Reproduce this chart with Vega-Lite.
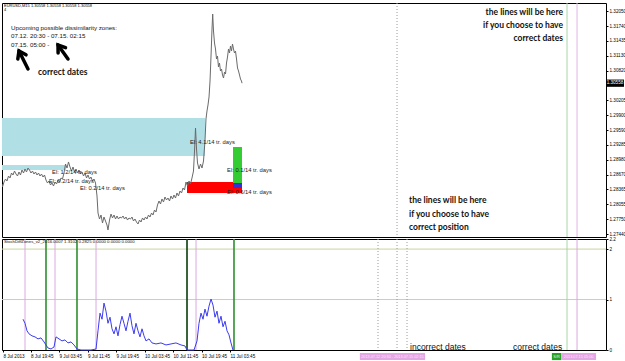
{
  "$schema": "https://vega.github.io/schema/vega-lite/v6.json",
  "background": "white",
  "padding": {"left": 1, "top": 2, "right": 0, "bottom": 0},
  "bounds": "flush",
  "spacing": 2,
  "config": {
    "view": {"stroke": "#000", "strokeWidth": 1},
    "font": "Liberation Sans",
    "axis": {"labelFont": "Liberation Sans", "labelFontSize": 4.6, "labelColor": "#000", "tickColor": "#000", "tickSize": 2, "grid": false, "domain": false, "labelOverlap": false, "labelFlush": false}
  },
  "datasets": {
    "price": [
      {"t":11.75,"p":1.28474},{"t":11.89,"p":1.28412},{"t":12.31,"p":1.28515},{"t":12.73,"p":1.28577},{"t":13.15,"p":1.28536},{"t":13.58,"p":1.28639},{"t":14.00,"p":1.28598},{"t":14.42,"p":1.28701},{"t":14.84,"p":1.28660},{"t":15.26,"p":1.28742},
      {"t":15.68,"p":1.28680},{"t":16.10,"p":1.28639},{"t":16.52,"p":1.28722},{"t":16.94,"p":1.28660},{"t":17.36,"p":1.28763},{"t":17.79,"p":1.28701},{"t":18.21,"p":1.28784},{"t":18.63,"p":1.28722},{"t":19.05,"p":1.28804},{"t":19.47,"p":1.28763},
      {"t":19.89,"p":1.28701},{"t":20.31,"p":1.28742},{"t":20.73,"p":1.28680},{"t":21.15,"p":1.28722},{"t":21.58,"p":1.28660},{"t":22.00,"p":1.28701},{"t":22.42,"p":1.28639},{"t":22.84,"p":1.28680},{"t":23.26,"p":1.28618},{"t":23.68,"p":1.28660},
      {"t":24.10,"p":1.28556},{"t":24.52,"p":1.28494},{"t":24.94,"p":1.28536},{"t":25.36,"p":1.28453},{"t":25.79,"p":1.28494},{"t":26.21,"p":1.28432},{"t":26.63,"p":1.28515},{"t":27.05,"p":1.28474},{"t":27.47,"p":1.28556},{"t":27.89,"p":1.28515},
      {"t":28.31,"p":1.28598},{"t":28.73,"p":1.28577},{"t":29.15,"p":1.28701},{"t":29.58,"p":1.28887},{"t":30.00,"p":1.28804},{"t":30.42,"p":1.28929},{"t":30.84,"p":1.28825},{"t":31.26,"p":1.28742},{"t":31.68,"p":1.28825},{"t":32.10,"p":1.28722},
      {"t":32.52,"p":1.28784},{"t":32.94,"p":1.28701},{"t":33.36,"p":1.28763},{"t":33.79,"p":1.28680},{"t":34.21,"p":1.28722},{"t":34.63,"p":1.28639},{"t":35.05,"p":1.28701},{"t":35.47,"p":1.28598},{"t":35.89,"p":1.28660},{"t":36.31,"p":1.28577},
      {"t":36.73,"p":1.28618},{"t":37.15,"p":1.28536},{"t":37.58,"p":1.28577},{"t":38.00,"p":1.28494},{"t":38.42,"p":1.28226},{"t":38.70,"p":1.27874},{"t":39.12,"p":1.27750},{"t":39.54,"p":1.27833},{"t":39.96,"p":1.27667},{"t":40.38,"p":1.27791},
      {"t":40.80,"p":1.27709},{"t":41.22,"p":1.27626},{"t":41.50,"p":1.27523},{"t":41.93,"p":1.27729},{"t":42.35,"p":1.27853},{"t":42.77,"p":1.27771},{"t":43.19,"p":1.27833},{"t":43.61,"p":1.27750},{"t":44.03,"p":1.27812},{"t":44.45,"p":1.27750},
      {"t":44.87,"p":1.27791},{"t":45.29,"p":1.27771},{"t":45.72,"p":1.27812},{"t":46.14,"p":1.27750},{"t":46.56,"p":1.27791},{"t":46.98,"p":1.27729},{"t":47.40,"p":1.27771},{"t":47.82,"p":1.27750},{"t":48.24,"p":1.27791},{"t":48.66,"p":1.27709},
      {"t":49.08,"p":1.27750},{"t":49.50,"p":1.27688},{"t":49.93,"p":1.27647},{"t":50.35,"p":1.27729},{"t":50.77,"p":1.27688},{"t":51.19,"p":1.27771},{"t":51.61,"p":1.27729},{"t":52.03,"p":1.27791},{"t":52.45,"p":1.27750},{"t":52.87,"p":1.27833},
      {"t":53.29,"p":1.27791},{"t":53.72,"p":1.27874},{"t":54.14,"p":1.27833},{"t":54.56,"p":1.27936},{"t":54.98,"p":1.27895},{"t":55.40,"p":1.28040},{"t":55.82,"p":1.28122},{"t":56.24,"p":1.28060},{"t":56.66,"p":1.28164},{"t":57.08,"p":1.28102},
      {"t":57.50,"p":1.28205},{"t":57.93,"p":1.28143},{"t":58.35,"p":1.28184},{"t":58.77,"p":1.28122},{"t":59.19,"p":1.28226},{"t":59.61,"p":1.28164},{"t":60.03,"p":1.28246},{"t":60.45,"p":1.28184},{"t":60.87,"p":1.28288},{"t":61.29,"p":1.28226},
      {"t":61.72,"p":1.28329},{"t":62.14,"p":1.28288},{"t":62.56,"p":1.28391},{"t":62.98,"p":1.28350},{"t":63.40,"p":1.28515},{"t":63.82,"p":1.28432},{"t":64.24,"p":1.28536},{"t":64.66,"p":1.28474},{"t":65.08,"p":1.28598},{"t":65.50,"p":1.28742},
      {"t":65.79,"p":1.29156},{"t":66.07,"p":1.29631},{"t":66.35,"p":1.29197},{"t":66.63,"p":1.28908},{"t":67.05,"p":1.28784},{"t":67.47,"p":1.28887},{"t":67.89,"p":1.28804},{"t":68.31,"p":1.28949},{"t":68.73,"p":1.29363},{"t":69.01,"p":1.29818},
      {"t":69.29,"p":1.29983},{"t":69.57,"p":1.30107},{"t":69.86,"p":1.30272},{"t":70.14,"p":1.30603},{"t":70.42,"p":1.31120},{"t":70.70,"p":1.31678},{"t":70.89,"p":1.31988},{"t":71.12,"p":1.31637},{"t":71.40,"p":1.31389},{"t":71.68,"p":1.31265},
      {"t":71.96,"p":1.31058},{"t":72.24,"p":1.31120},{"t":72.52,"p":1.30893},{"t":72.80,"p":1.30975},{"t":73.08,"p":1.30810},{"t":73.37,"p":1.30851},{"t":73.65,"p":1.30727},{"t":73.93,"p":1.30665},{"t":74.21,"p":1.30789},{"t":74.49,"p":1.30748},
      {"t":74.77,"p":1.30975},{"t":75.05,"p":1.31099},{"t":75.33,"p":1.31265},{"t":75.61,"p":1.31182},{"t":75.89,"p":1.31327},{"t":76.17,"p":1.31223},{"t":76.45,"p":1.31368},{"t":76.73,"p":1.31265},{"t":77.01,"p":1.31182},{"t":77.29,"p":1.31223},
      {"t":77.58,"p":1.31058},{"t":77.86,"p":1.30872},{"t":78.14,"p":1.30810},{"t":78.42,"p":1.30727},{"t":78.70,"p":1.30644},{"t":78.98,"p":1.30603},{"t":79.12,"p":1.30558}
    ],
    "rects": [
      {"k":"zone","t":11.75,"t2":68.73,"p":1.29053,"p2":1.29838},
      {"k":"zone","t":11.75,"t2":29.72,"p":1.28763,"p2":1.28867},
      {"k":"red","t":63.68,"t2":79.12,"p":1.28288,"p2":1.28515},
      {"k":"green","t":76.59,"t2":79.12,"p":1.28494,"p2":1.29239},
      {"k":"blue","t":76.59,"t2":79.12,"p":1.28391,"p2":1.28494}
    ],
    "mainLines": [
      {"k":"grey","t":122.63},
      {"k":"lgreen","t":170.35},
      {"k":"violet","t":173.16}
    ],
    "arrows": [
      {"seg":"a1","o":1,"t":19.05,"p":1.30851},{"seg":"a1","o":2,"t":16.52,"p":1.31223},
      {"seg":"a1h","o":1,"t":16.19,"p":1.31060},{"seg":"a1h","o":2,"t":16.52,"p":1.31223},{"seg":"a1h","o":3,"t":18.49,"p":1.31145},
      {"seg":"a2","o":1,"t":30.28,"p":1.31058},{"seg":"a2","o":2,"t":27.47,"p":1.31347},
      {"seg":"a2h","o":1,"t":27.50,"p":1.31182},{"seg":"a2h","o":2,"t":27.47,"p":1.31347},{"seg":"a2h","o":3,"t":29.58,"p":1.31292}
    ],
    "notes": [
      {"k":"hdr","t":12.31,"p":1.32154,"label":"EURUSD,M15  1.30558 1.30558 1.30558 1.30558"},
      {"k":"hdr","t":12.31,"p":1.32071,"label":"4"},
      {"k":"dz","t":14.28,"p":1.31699,"label":"Upcoming possible dissimilarity zones:"},
      {"k":"dz","t":14.28,"p":1.31533,"label":"07.12. 20:30 - 07.15. 02:15"},
      {"k":"dz","t":14.28,"p":1.31347,"label":"07.15. 05:00 -"},
      {"k":"el","t":64.52,"p":1.29342,"label":"El: 4.1/14 tr. days"},
      {"k":"el","t":25.79,"p":1.28722,"label":"El: 1.2/14 tr. days"},
      {"k":"el","t":24.94,"p":1.28536,"label":"El: 0.2/14 tr. days"},
      {"k":"el","t":33.65,"p":1.28391,"label":"El: 0.2/14 tr. days"},
      {"k":"el","t":74.91,"p":1.28763,"label":"El: 0.1/14 tr. days"},
      {"k":"el","t":74.91,"p":1.28308,"label":"El: 0.6/14 tr. days"},
      {"k":"big","t":21.86,"p":1.30789,"label":"correct dates"},
      {"k":"big","t":126.0,"p":1.28143,"label":"the lines will be here"},
      {"k":"big","t":126.0,"p":1.27853,"label":"if you choose to have"},
      {"k":"big","t":126.0,"p":1.27585,"label":"correct position"},
      {"k":"bigR","t":169.22,"p":1.32030,"label":"the lines will be here"},
      {"k":"bigR","t":169.22,"p":1.31761,"label":"if you choose to have"},
      {"k":"bigR","t":169.22,"p":1.31492,"label":"correct dates"}
    ],
    "lastPrice": [
      {"t":181.29,"t2":186.34,"tm":183.8,"p":1.30558,"lo":1.30483,"hi":1.30633,"label":"1.30558"}
    ],
    "ind": [
      {"t":17.65,"v":0.61},{"t":18.21,"v":0.53},{"t":18.77,"v":0.38},{"t":19.33,"v":0.32},{"t":20.17,"v":0.28},{"t":21.01,"v":0.26},{"t":21.86,"v":0.22},{"t":22.70,"v":0.24},{"t":23.54,"v":0.16},{"t":24.10,"v":0.10},
      {"t":24.66,"v":0.04},{"t":25.51,"v":0.02},{"t":26.35,"v":0.06},{"t":26.91,"v":0.26},{"t":27.75,"v":0.22},{"t":28.59,"v":0.18},{"t":29.43,"v":0.20},{"t":30.28,"v":0.14},{"t":31.12,"v":0.16},{"t":31.96,"v":0.10},
      {"t":32.80,"v":0.02},{"t":33.93,"v":0.0},{"t":36.73,"v":0.0},{"t":38.14,"v":0.02},{"t":38.70,"v":0.38},{"t":39.26,"v":0.73},{"t":39.82,"v":0.61},{"t":40.38,"v":0.93},{"t":40.94,"v":0.77},{"t":41.50,"v":0.53},
      {"t":42.07,"v":0.65},{"t":42.63,"v":0.42},{"t":43.19,"v":0.32},{"t":43.75,"v":0.46},{"t":44.31,"v":0.28},{"t":44.87,"v":0.50},{"t":45.43,"v":0.67},{"t":45.99,"v":0.53},{"t":46.56,"v":0.38},{"t":47.12,"v":0.57},
      {"t":47.68,"v":0.73},{"t":48.24,"v":0.48},{"t":48.80,"v":0.32},{"t":49.36,"v":0.53},{"t":49.93,"v":0.38},{"t":50.49,"v":0.26},{"t":51.05,"v":0.42},{"t":51.61,"v":0.28},{"t":52.17,"v":0.18},{"t":53.01,"v":0.22},
      {"t":53.86,"v":0.14},{"t":54.98,"v":0.12},{"t":56.38,"v":0.14},{"t":57.79,"v":0.10},{"t":59.19,"v":0.12},{"t":60.59,"v":0.14},{"t":62.00,"v":0.10},{"t":63.12,"v":0.08},{"t":63.68,"v":0.0},{"t":65.65,"v":0.0},
      {"t":66.49,"v":0.18},{"t":67.05,"v":0.53},{"t":67.61,"v":0.73},{"t":68.17,"v":0.61},{"t":68.73,"v":0.81},{"t":69.29,"v":0.67},{"t":69.86,"v":0.87},{"t":70.42,"v":1.01},{"t":70.98,"v":0.89},{"t":71.54,"v":0.65},
      {"t":72.10,"v":0.77},{"t":72.66,"v":0.53},{"t":73.22,"v":0.67},{"t":73.79,"v":0.46},{"t":74.35,"v":0.57},{"t":74.91,"v":0.38},{"t":75.47,"v":0.30},{"t":76.03,"v":0.14},{"t":76.59,"v":0.0}
    ],
    "indLines": [
      {"k":"violet","t":18.21},{"k":"green","t":24.10},{"k":"violet","t":26.63},{"k":"green","t":32.80},{"k":"violet","t":38.14},
      {"k":"dgreen","t":63.68},{"k":"violet","t":66.21},{"k":"green","t":76.87},
      {"k":"grey","t":117.30},{"k":"grey","t":122.63},{"k":"grey","t":125.44},
      {"k":"lgreen","t":170.35},{"k":"violet","t":173.16}
    ],
    "levels": [{"v":1},{"v":2}],
    "indNotes": [
      {"k":"title","t":12.31,"v":2.14,"label":"StochDiffZones_v2_2016.0007  1.3102 0.2825 0.0000 0.0000 0.0000"},
      {"k":"big","t":126.28,"v":0.05,"label":"incorrect dates"},
      {"k":"big","t":155.19,"v":0.05,"label":"correct dates"}
    ],
    "tags": [
      {"k":"pink","t":112.2,"t2":130.5,"tm":121.35,"v":-0.06,"v2":-0.2,"label":"2013.07.12 20:30 - 2013.07.15 02:15"},
      {"k":"green","t":166.1,"t2":168.7,"tm":167.4,"v":-0.06,"v2":-0.2,"label":"S/R"},
      {"k":"pink","t":168.7,"t2":178.5,"tm":173.6,"v":-0.06,"v2":-0.2,"label":"2013.07.15 05:00"}
    ]
  },
  "vconcat": [
    {
      "width": 604,
      "height": 234,
      "resolve": {"scale": {"color": "independent"}},
      "layer": [
        {
          "data": {"name": "rects"},
          "mark": {"type": "rect"},
          "encoding": {
            "x": {"field": "t", "type": "quantitative", "scale": {"domain": [11.75, 181.29], "nice": false, "zero": false}, "axis": null},
            "x2": {"field": "t2"},
            "y": {"field": "p", "type": "quantitative", "scale": {"domain": [1.27378, 1.32216], "nice": false, "zero": false},
              "axis": {"orient": "right", "title": null, "values": [1.2744, 1.2775, 1.28055, 1.28365, 1.2867, 1.2898, 1.29285, 1.2959, 1.299, 1.30205, 1.3082, 1.3113, 1.31435, 1.3174, 1.3205], "format": ".5f", "labelPadding": 1}},
            "y2": {"field": "p2"},
            "color": {"field": "k", "type": "nominal", "legend": null, "scale": {"domain": ["zone", "red", "green", "blue"], "range": ["#b0dfe6", "#ff0000", "#33cc33", "#3232d2"]}}
          }
        },
        {
          "data": {"name": "mainLines"},
          "transform": [{"filter": "datum.k != 'grey'"}],
          "mark": {"type": "rule", "strokeWidth": 1},
          "encoding": {
            "x": {"field": "t", "type": "quantitative", "scale": {"domain": [11.75, 181.29], "nice": false, "zero": false}, "axis": null},
            "color": {"field": "k", "type": "nominal", "legend": null, "scale": {"domain": ["lgreen", "violet"], "range": ["#a6d6a6", "#e0b4e6"]}}
          }
        },
        {
          "data": {"name": "mainLines"},
          "transform": [{"filter": "datum.k == 'grey'"}],
          "mark": {"type": "rule", "strokeWidth": 1, "color": "#9a9a9a", "strokeDash": [1, 2]},
          "encoding": {
            "x": {"field": "t", "type": "quantitative", "scale": {"domain": [11.75, 181.29], "nice": false, "zero": false}, "axis": null}
          }
        },
        {
          "data": {"name": "price"},
          "mark": {"type": "line", "color": "#6a6a6a", "strokeWidth": 1, "clip": true},
          "encoding": {
            "x": {"field": "t", "type": "quantitative", "scale": {"domain": [11.75, 181.29], "nice": false, "zero": false}, "axis": null},
            "y": {"field": "p", "type": "quantitative", "scale": {"domain": [1.27378, 1.32216], "nice": false, "zero": false},
              "axis": {"orient": "right", "title": null, "values": [1.2744, 1.2775, 1.28055, 1.28365, 1.2867, 1.2898, 1.29285, 1.2959, 1.299, 1.30205, 1.3082, 1.3113, 1.31435, 1.3174, 1.3205], "format": ".5f", "labelPadding": 1}}
          }
        },
        {
          "data": {"name": "arrows"},
          "mark": {"type": "line", "color": "#000", "strokeWidth": 3.5, "strokeCap": "round", "strokeJoin": "miter"},
          "encoding": {
            "x": {"field": "t", "type": "quantitative", "scale": {"domain": [11.75, 181.29], "nice": false, "zero": false}, "axis": null},
            "y": {"field": "p", "type": "quantitative", "scale": {"domain": [1.27378, 1.32216], "nice": false, "zero": false},
              "axis": {"orient": "right", "title": null, "values": [1.2744, 1.2775, 1.28055, 1.28365, 1.2867, 1.2898, 1.29285, 1.2959, 1.299, 1.30205, 1.3082, 1.3113, 1.31435, 1.3174, 1.3205], "format": ".5f", "labelPadding": 1}},
            "detail": {"field": "seg"},
            "order": {"field": "o"}
          }
        },
        {
          "data": {"name": "notes"},
          "transform": [{"filter": "datum.k == 'hdr'"}],
          "mark": {"type": "text", "align": "left", "baseline": "middle", "fontSize": 4, "color": "#000"},
          "encoding": {
            "x": {"field": "t", "type": "quantitative", "scale": {"domain": [11.75, 181.29], "nice": false, "zero": false}, "axis": null},
            "y": {"field": "p", "type": "quantitative", "scale": {"domain": [1.27378, 1.32216], "nice": false, "zero": false},
              "axis": {"orient": "right", "title": null, "values": [1.2744, 1.2775, 1.28055, 1.28365, 1.2867, 1.2898, 1.29285, 1.2959, 1.299, 1.30205, 1.3082, 1.3113, 1.31435, 1.3174, 1.3205], "format": ".5f", "labelPadding": 1}},
            "text": {"field": "label"}
          }
        },
        {
          "data": {"name": "notes"},
          "transform": [{"filter": "datum.k == 'dz'"}],
          "mark": {"type": "text", "align": "left", "baseline": "middle", "fontSize": 6.2, "color": "#111"},
          "encoding": {
            "x": {"field": "t", "type": "quantitative", "scale": {"domain": [11.75, 181.29], "nice": false, "zero": false}, "axis": null},
            "y": {"field": "p", "type": "quantitative", "scale": {"domain": [1.27378, 1.32216], "nice": false, "zero": false},
              "axis": {"orient": "right", "title": null, "values": [1.2744, 1.2775, 1.28055, 1.28365, 1.2867, 1.2898, 1.29285, 1.2959, 1.299, 1.30205, 1.3082, 1.3113, 1.31435, 1.3174, 1.3205], "format": ".5f", "labelPadding": 1}},
            "text": {"field": "label"}
          }
        },
        {
          "data": {"name": "notes"},
          "transform": [{"filter": "datum.k == 'el'"}],
          "mark": {"type": "text", "align": "left", "baseline": "middle", "fontSize": 5.8, "color": "#222"},
          "encoding": {
            "x": {"field": "t", "type": "quantitative", "scale": {"domain": [11.75, 181.29], "nice": false, "zero": false}, "axis": null},
            "y": {"field": "p", "type": "quantitative", "scale": {"domain": [1.27378, 1.32216], "nice": false, "zero": false},
              "axis": {"orient": "right", "title": null, "values": [1.2744, 1.2775, 1.28055, 1.28365, 1.2867, 1.2898, 1.29285, 1.2959, 1.299, 1.30205, 1.3082, 1.3113, 1.31435, 1.3174, 1.3205], "format": ".5f", "labelPadding": 1}},
            "text": {"field": "label"}
          }
        },
        {
          "data": {"name": "notes"},
          "transform": [{"filter": "datum.k == 'big'"}],
          "mark": {"type": "text", "align": "left", "baseline": "middle", "fontSize": 8.5, "font": "Lato", "fontWeight": "bold", "color": "#111"},
          "encoding": {
            "x": {"field": "t", "type": "quantitative", "scale": {"domain": [11.75, 181.29], "nice": false, "zero": false}, "axis": null},
            "y": {"field": "p", "type": "quantitative", "scale": {"domain": [1.27378, 1.32216], "nice": false, "zero": false},
              "axis": {"orient": "right", "title": null, "values": [1.2744, 1.2775, 1.28055, 1.28365, 1.2867, 1.2898, 1.29285, 1.2959, 1.299, 1.30205, 1.3082, 1.3113, 1.31435, 1.3174, 1.3205], "format": ".5f", "labelPadding": 1}},
            "text": {"field": "label"}
          }
        },
        {
          "data": {"name": "notes"},
          "transform": [{"filter": "datum.k == 'bigR'"}],
          "mark": {"type": "text", "align": "right", "baseline": "middle", "fontSize": 8.5, "font": "Lato", "fontWeight": "bold", "color": "#111"},
          "encoding": {
            "x": {"field": "t", "type": "quantitative", "scale": {"domain": [11.75, 181.29], "nice": false, "zero": false}, "axis": null},
            "y": {"field": "p", "type": "quantitative", "scale": {"domain": [1.27378, 1.32216], "nice": false, "zero": false},
              "axis": {"orient": "right", "title": null, "values": [1.2744, 1.2775, 1.28055, 1.28365, 1.2867, 1.2898, 1.29285, 1.2959, 1.299, 1.30205, 1.3082, 1.3113, 1.31435, 1.3174, 1.3205], "format": ".5f", "labelPadding": 1}},
            "text": {"field": "label"}
          }
        },
        {
          "data": {"name": "lastPrice"},
          "mark": {"type": "rect", "color": "#000"},
          "encoding": {
            "x": {"field": "t", "type": "quantitative", "scale": {"domain": [11.75, 181.29], "nice": false, "zero": false}, "axis": null},
            "x2": {"field": "t2"},
            "y": {"field": "lo", "type": "quantitative", "scale": {"domain": [1.27378, 1.32216], "nice": false, "zero": false},
              "axis": {"orient": "right", "title": null, "values": [1.2744, 1.2775, 1.28055, 1.28365, 1.2867, 1.2898, 1.29285, 1.2959, 1.299, 1.30205, 1.3082, 1.3113, 1.31435, 1.3174, 1.3205], "format": ".5f", "labelPadding": 1}},
            "y2": {"field": "hi"}
          }
        },
        {
          "data": {"name": "lastPrice"},
          "mark": {"type": "text", "align": "center", "baseline": "middle", "fontSize": 4.6, "color": "#fff"},
          "encoding": {
            "x": {"field": "tm", "type": "quantitative", "scale": {"domain": [11.75, 181.29], "nice": false, "zero": false}, "axis": null},
            "y": {"field": "p", "type": "quantitative", "scale": {"domain": [1.27378, 1.32216], "nice": false, "zero": false},
              "axis": {"orient": "right", "title": null, "values": [1.2744, 1.2775, 1.28055, 1.28365, 1.2867, 1.2898, 1.29285, 1.2959, 1.299, 1.30205, 1.3082, 1.3113, 1.31435, 1.3174, 1.3205], "format": ".5f", "labelPadding": 1}},
            "text": {"field": "label"}
          }
        }
      ]
    },
    {
      "width": 604,
      "height": 111,
      "resolve": {"scale": {"color": "independent"}},
      "layer": [
        {
          "data": {"name": "levels"},
          "mark": {"type": "rule", "color": "#c9d59e", "strokeWidth": 1},
          "encoding": {
            "y": {"field": "v", "type": "quantitative", "scale": {"domain": [0, 2.2], "nice": false, "zero": false},
              "axis": {"orient": "right", "title": null, "values": [0, 1, 2, 2.2], "labelExpr": "toString(datum.value)", "labelPadding": 1}}
          }
        },
        {
          "data": {"name": "indLines"},
          "transform": [{"filter": "datum.k == 'violet' || datum.k == 'lgreen'"}],
          "mark": {"type": "rule", "strokeWidth": 1},
          "encoding": {
            "x": {"field": "t", "type": "quantitative", "scale": {"domain": [11.75, 181.29], "nice": false, "zero": false},
              "axis": {"orient": "bottom", "title": null, "values": [12, 19.75, 27.75, 35.75, 43.75, 51.75, 59.75, 67.75, 75.75], "labelAlign": "left", "labelPadding": 1,
                "labelExpr": "datum.value < 13 ? '8 Jul 2013' : (8 + floor(datum.value / 24)) + ' Jul ' + (floor(datum.value % 24) < 10 ? '0' : '') + floor(datum.value % 24) + ':' + (round((datum.value % 1) * 60) < 10 ? '0' : '') + round((datum.value % 1) * 60)"}},
            "color": {"field": "k", "type": "nominal", "legend": null, "scale": {"domain": ["violet", "lgreen"], "range": ["#dba8e2", "#a6d6a6"]}}
          }
        },
        {
          "data": {"name": "indLines"},
          "transform": [{"filter": "datum.k == 'green' || datum.k == 'dgreen'"}],
          "mark": {"type": "rule", "strokeWidth": 1.6},
          "encoding": {
            "x": {"field": "t", "type": "quantitative", "scale": {"domain": [11.75, 181.29], "nice": false, "zero": false},
              "axis": {"orient": "bottom", "title": null, "values": [12, 19.75, 27.75, 35.75, 43.75, 51.75, 59.75, 67.75, 75.75], "labelAlign": "left", "labelPadding": 1,
                "labelExpr": "datum.value < 13 ? '8 Jul 2013' : (8 + floor(datum.value / 24)) + ' Jul ' + (floor(datum.value % 24) < 10 ? '0' : '') + floor(datum.value % 24) + ':' + (round((datum.value % 1) * 60) < 10 ? '0' : '') + round((datum.value % 1) * 60)"}},
            "color": {"field": "k", "type": "nominal", "legend": null, "scale": {"domain": ["green", "dgreen"], "range": ["#2f8f2f", "#0b3d0b"]}}
          }
        },
        {
          "data": {"name": "indLines"},
          "transform": [{"filter": "datum.k == 'grey'"}],
          "mark": {"type": "rule", "strokeWidth": 1, "color": "#9a9a9a", "strokeDash": [1, 2]},
          "encoding": {
            "x": {"field": "t", "type": "quantitative", "scale": {"domain": [11.75, 181.29], "nice": false, "zero": false},
              "axis": {"orient": "bottom", "title": null, "values": [12, 19.75, 27.75, 35.75, 43.75, 51.75, 59.75, 67.75, 75.75], "labelAlign": "left", "labelPadding": 1,
                "labelExpr": "datum.value < 13 ? '8 Jul 2013' : (8 + floor(datum.value / 24)) + ' Jul ' + (floor(datum.value % 24) < 10 ? '0' : '') + floor(datum.value % 24) + ':' + (round((datum.value % 1) * 60) < 10 ? '0' : '') + round((datum.value % 1) * 60)"}}
          }
        },
        {
          "data": {"name": "ind"},
          "mark": {"type": "line", "color": "#3b3bf0", "strokeWidth": 1},
          "encoding": {
            "x": {"field": "t", "type": "quantitative", "scale": {"domain": [11.75, 181.29], "nice": false, "zero": false},
              "axis": {"orient": "bottom", "title": null, "values": [12, 19.75, 27.75, 35.75, 43.75, 51.75, 59.75, 67.75, 75.75], "labelAlign": "left", "labelPadding": 1,
                "labelExpr": "datum.value < 13 ? '8 Jul 2013' : (8 + floor(datum.value / 24)) + ' Jul ' + (floor(datum.value % 24) < 10 ? '0' : '') + floor(datum.value % 24) + ':' + (round((datum.value % 1) * 60) < 10 ? '0' : '') + round((datum.value % 1) * 60)"}},
            "y": {"field": "v", "type": "quantitative", "scale": {"domain": [0, 2.2], "nice": false, "zero": false},
              "axis": {"orient": "right", "title": null, "values": [0, 1, 2, 2.2], "labelExpr": "toString(datum.value)", "labelPadding": 1}}
          }
        },
        {
          "data": {"name": "indNotes"},
          "mark": {"type": "text", "align": "left", "baseline": "middle", "color": "#111"},
          "encoding": {
            "x": {"field": "t", "type": "quantitative", "scale": {"domain": [11.75, 181.29], "nice": false, "zero": false},
              "axis": {"orient": "bottom", "title": null, "values": [12, 19.75, 27.75, 35.75, 43.75, 51.75, 59.75, 67.75, 75.75], "labelAlign": "left", "labelPadding": 1,
                "labelExpr": "datum.value < 13 ? '8 Jul 2013' : (8 + floor(datum.value / 24)) + ' Jul ' + (floor(datum.value % 24) < 10 ? '0' : '') + floor(datum.value % 24) + ':' + (round((datum.value % 1) * 60) < 10 ? '0' : '') + round((datum.value % 1) * 60)"}},
            "y": {"field": "v", "type": "quantitative", "scale": {"domain": [0, 2.2], "nice": false, "zero": false},
              "axis": {"orient": "right", "title": null, "values": [0, 1, 2, 2.2], "labelExpr": "toString(datum.value)", "labelPadding": 1}},
            "text": {"field": "label"},
            "size": {"field": "k", "type": "nominal", "legend": null, "scale": {"domain": ["title", "big"], "range": [4.3, 8.5]}},
            "font": {"field": "k", "type": "nominal", "legend": null, "scale": {"domain": ["title", "big"], "range": ["Liberation Sans", "Lato"]}},
            "fontWeight": {"condition": {"test": "datum.k == 'big'", "value": "bold"}, "value": "normal"}
          }
        },
        {
          "data": {"name": "tags"},
          "mark": {"type": "rect"},
          "encoding": {
            "x": {"field": "t", "type": "quantitative", "scale": {"domain": [11.75, 181.29], "nice": false, "zero": false},
              "axis": {"orient": "bottom", "title": null, "values": [12, 19.75, 27.75, 35.75, 43.75, 51.75, 59.75, 67.75, 75.75], "labelAlign": "left", "labelPadding": 1,
                "labelExpr": "datum.value < 13 ? '8 Jul 2013' : (8 + floor(datum.value / 24)) + ' Jul ' + (floor(datum.value % 24) < 10 ? '0' : '') + floor(datum.value % 24) + ':' + (round((datum.value % 1) * 60) < 10 ? '0' : '') + round((datum.value % 1) * 60)"}},
            "x2": {"field": "t2"},
            "y": {"field": "v", "type": "quantitative", "scale": {"domain": [0, 2.2], "nice": false, "zero": false},
              "axis": {"orient": "right", "title": null, "values": [0, 1, 2, 2.2], "labelExpr": "toString(datum.value)", "labelPadding": 1}},
            "y2": {"field": "v2"},
            "color": {"field": "k", "type": "nominal", "legend": null, "scale": {"domain": ["pink", "green"], "range": ["#e4a6e4", "#27a327"]}}
          }
        },
        {
          "data": {"name": "tags"},
          "mark": {"type": "text", "align": "center", "baseline": "middle", "fontSize": 3.8, "color": "#fbe8fb"},
          "encoding": {
            "x": {"field": "tm", "type": "quantitative", "scale": {"domain": [11.75, 181.29], "nice": false, "zero": false},
              "axis": {"orient": "bottom", "title": null, "values": [12, 19.75, 27.75, 35.75, 43.75, 51.75, 59.75, 67.75, 75.75], "labelAlign": "left", "labelPadding": 1,
                "labelExpr": "datum.value < 13 ? '8 Jul 2013' : (8 + floor(datum.value / 24)) + ' Jul ' + (floor(datum.value % 24) < 10 ? '0' : '') + floor(datum.value % 24) + ':' + (round((datum.value % 1) * 60) < 10 ? '0' : '') + round((datum.value % 1) * 60)"}},
            "y": {"field": "v", "type": "quantitative", "scale": {"domain": [0, 2.2], "nice": false, "zero": false},
              "axis": {"orient": "right", "title": null, "values": [0, 1, 2, 2.2], "labelExpr": "toString(datum.value)", "labelPadding": 1}},
            "yOffset": {"value": 3.5},
            "text": {"field": "label"}
          }
        }
      ]
    }
  ]
}
